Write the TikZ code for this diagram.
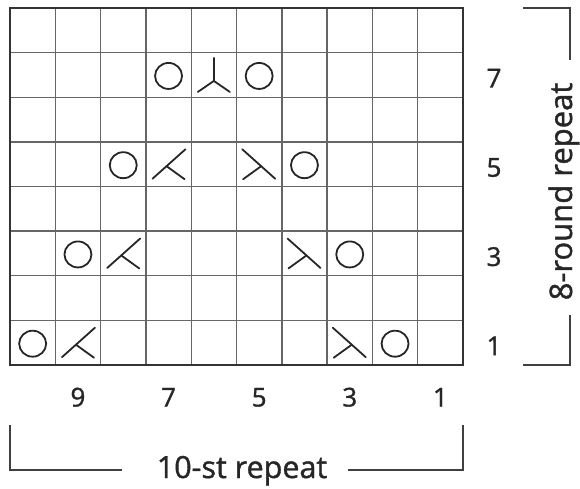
\documentclass[tikz,border=0pt]{standalone}
\usepackage{fontspec}
\setmainfont{Open Sans}[FakeBold=1.2]
\tikzset{
  gridline/.style={line width=1.4pt, draw=black!60},
  gridborder/.style={line width=2.4pt, draw=black!80, line cap=round, line join=miter},
  bracketline/.style={line width=2pt, draw=black!75, line join=miter},
  sym/.style={line width=1.8pt, draw=black!85, line cap=round},
  numlabel/.style={font=\fontsize{26}{26}\selectfont, text=black!85, inner sep=0pt, anchor=base},
  replabel/.style={text=black!85, inner sep=0pt, anchor=base}
}
\newcommand{\yarnover}{\draw[sym] (0,1) ellipse [x radius=13.5, y radius=13];}
\newcommand{\kleft}{\draw[sym] (-16,14.5) -- (17,-15); \draw[sym] (-2,2) -- (16,15);}
\newcommand{\kright}{\draw[sym] (-17,-15) -- (16,14.5); \draw[sym] (2,2) -- (-16,15);}
\newcommand{\kcentre}{\draw[sym] (0,-17) -- (0,6); \draw[sym] (-16,17) -- (0,6) -- (16,17);}
\begin{document}
\begin{tikzpicture}[x=1pt,y=-1pt]
\useasboundingbox (0,0) rectangle (580,489);
\def\cw{45.3}
\def\rh{44.625}
% grid
\foreach \i in {1,...,9} \draw[gridline] ({10+\cw*\i},8) -- ({10+\cw*\i},365);
\foreach \j in {1,...,7} \draw[gridline] (10,{8+\rh*\j}) -- (463,{8+\rh*\j});
\draw[gridborder] (10,8) rectangle (463,365);
% symbols
\foreach \c/\r/\s in {1/8/\yarnover,2/8/\kleft,8/8/\kright,9/8/\yarnover,
                       2/6/\yarnover,3/6/\kleft,7/6/\kright,8/6/\yarnover,
                       3/4/\yarnover,4/4/\kleft,6/4/\kright,7/4/\yarnover,
                       4/2/\yarnover,5/2/\kcentre,6/2/\yarnover}
  {\begin{scope}[shift={({10+\cw*(\c-0.5)},{8+\rh*(\r-0.5)})}]
     \s
   \end{scope}}
% row numbers
\foreach \n/\r in {7/2,5/4,3/6,1/8}
  \node[numlabel] (row\n) at (494,{8+\rh*(\r-0.5)+12.5}) {\n};
% column numbers
\foreach \n/\c in {9/2,7/4,5/6,3/8,1/10}
  \node[numlabel] (col\n) at ({10+\cw*(\c-0.5)},406.5) {\n};
% bottom bracket
\node[replabel, font=\fontsize{30.5}{30.5}\selectfont] (strep) at (242,478) {10-st repeat};
\coordinate (bl1) at (10,425);
\coordinate (bl2) at (10,470);
\coordinate (bl3) at (122,470);
\coordinate (br1) at (348,470);
\coordinate (br2) at (463,470);
\coordinate (br3) at (463,425);
\draw[bracketline] (bl1) -- (bl2) -- (bl3);
\draw[bracketline] (br1) -- (br2) -- (br3);
% right bracket
\node[replabel, font=\fontsize{31}{31}\selectfont, rotate=90] (rdrep) at (572,191.5) {8-round repeat};
\coordinate (rt1) at (523,8);
\coordinate (rt2) at (570,8);
\coordinate (rt3) at (570,60);
\coordinate (rb1) at (570,315);
\coordinate (rb2) at (570,365);
\coordinate (rb3) at (523,365);
\draw[bracketline] (rt1) -- (rt2) -- (rt3);
\draw[bracketline] (rb1) -- (rb2) -- (rb3);
\end{tikzpicture}
\end{document}
